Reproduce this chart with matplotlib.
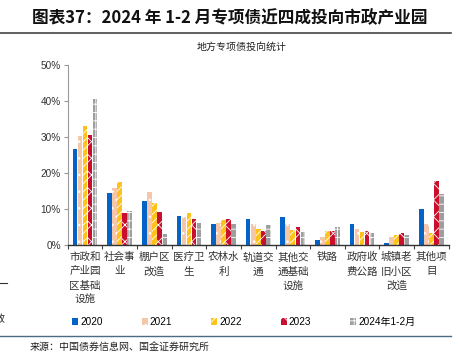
import matplotlib
matplotlib.use("Agg")
import matplotlib.pyplot as plt
import numpy as np
from matplotlib.lines import Line2D
from matplotlib.patches import Patch

plt.rcParams["font.family"] = ["Liberation Sans", "Noto Sans CJK SC", "DejaVu Sans"]
plt.rcParams["hatch.color"] = "white"
plt.rcParams["hatch.linewidth"] = 0.6

categories = [
    "市政和\n产业园\n区基础\n设施", "社会事\n业", "棚户区\n改造", "医疗卫\n生", "农林水\n利",
    "轨道交\n通", "其他交\n通基础\n设施", "铁路", "政府收\n费公路", "城镇老\n旧小区\n改造", "其他项\n目",
]
series_names = ["2020", "2021", "2022", "2023", "2024年1-2月"]
v2020 = [26.6, 14.4, 12.2, 8.1, 5.9, 7.1, 7.8, 1.4, 5.8, 0.5, 10.0]
v2021 = [30.4, 15.8, 14.7, 7.8, 6.1, 5.8, 5.8, 2.2, 4.4, 2.2, 5.7]
v2022 = [33.0, 17.6, 11.7, 8.8, 6.9, 4.4, 4.2, 3.9, 3.7, 2.9, 3.3]
v2023 = [30.5, 8.9, 9.2, 7.3, 7.2, 4.0, 5.0, 3.8, 3.9, 3.3, 17.9]
v2024 = [40.5, 9.4, 3.1, 6.1, 5.8, 5.5, 3.6, 5.1, 3.4, 2.8, 14.2]

colors = ["#0563C8", "#F5C6A8", "#FFC21A", "#C8102E", "#9E9E9E"]
hatches = [None, "..", "////", "xx", "++"]

fig = plt.figure(figsize=(4.59, 3.56), dpi=100)
ax = fig.add_axes([67.7 / 459, 111 / 356, 381 / 459, 180 / 356])

x = np.arange(len(categories))
width = 0.135
step = 0.145
all_values = [v2020, v2021, v2022, v2023, v2024]
for i, vals in enumerate(all_values):
    ax.bar(x + (i - 2) * step, vals, width, color=colors[i], hatch=hatches[i],
           linewidth=0, label=series_names[i])

ax.set_xlim(-0.5, len(categories) - 0.5)
ax.set_ylim(0, 50)
ax.set_yticks(range(0, 51, 10))
ax.set_yticklabels([f"{v}%" for v in range(0, 51, 10)], fontsize=7.2, color="#333333")
ax.set_xticks(x)
ax.set_xticklabels(categories, fontsize=7.6, color="#333333", linespacing=1.55,
                   family=["Noto Sans CJK SC"], va="top")
ax.tick_params(axis="x", length=0, pad=5)
ax.set_xticks(np.arange(-0.5, len(categories), 1), minor=True)
ax.tick_params(axis="x", which="minor", length=3, width=0.8, color="#444444", direction="out")
ax.tick_params(axis="y", length=3, width=0.8, color="#999999", pad=2)
for side in ["top", "right"]:
    ax.spines[side].set_visible(False)
ax.spines["left"].set_color("#999999")
ax.spines["left"].set_linewidth(0.8)
ax.spines["bottom"].set_color("#333333")
ax.spines["bottom"].set_linewidth(1.0)

handles = [Patch(facecolor=colors[i], hatch=hatches[i], linewidth=0) for i in range(5)]
fig.legend(handles, series_names, loc="center left", bbox_to_anchor=(72 / 459, 34 / 356),
           ncol=5, frameon=False, fontsize=7.2, handlelength=0.6, handleheight=0.6,
           handletextpad=0.2, columnspacing=3.9, borderpad=0, borderaxespad=0)

fig.text(32 / 459, 1 - 18 / 356, "图表37：2024 年 1-2 月专项债近四成投向市政产业园",
         fontsize=12, fontweight="bold", style="italic", color="#111111",
         family=["Noto Sans CJK SC"], va="center", ha="left")
fig.add_artist(Line2D([0, 451 / 459], [1 - 32.5 / 356] * 2, color="#444444", lw=1.2))
fig.text(242 / 459, 1 - 47 / 356, "地方专项债投向统计", fontsize=7.2, color="#222222",
         family=["Noto Sans CJK SC"], va="center", ha="center")

fig.add_artist(Line2D([0, 451 / 459], [1 - 336 / 356] * 2, color="#4B6A86", lw=1.0))
fig.text(30 / 459, 1 - 348 / 356, "来源：中国债券信息网、国金证券研究所", fontsize=7.2,
         color="#222222", family=["Noto Sans CJK SC"], va="center", ha="left")

fig.add_artist(Line2D([0, 7 / 459], [1 - 282.5 / 356] * 2, color="#333333", lw=0.8))
fig.text(-5 / 459, 1 - 319 / 356, "政", fontsize=7.2, color="#222222",
         family=["Noto Sans CJK SC"], va="center", ha="left")

fig.savefig("out.png", dpi=100)
